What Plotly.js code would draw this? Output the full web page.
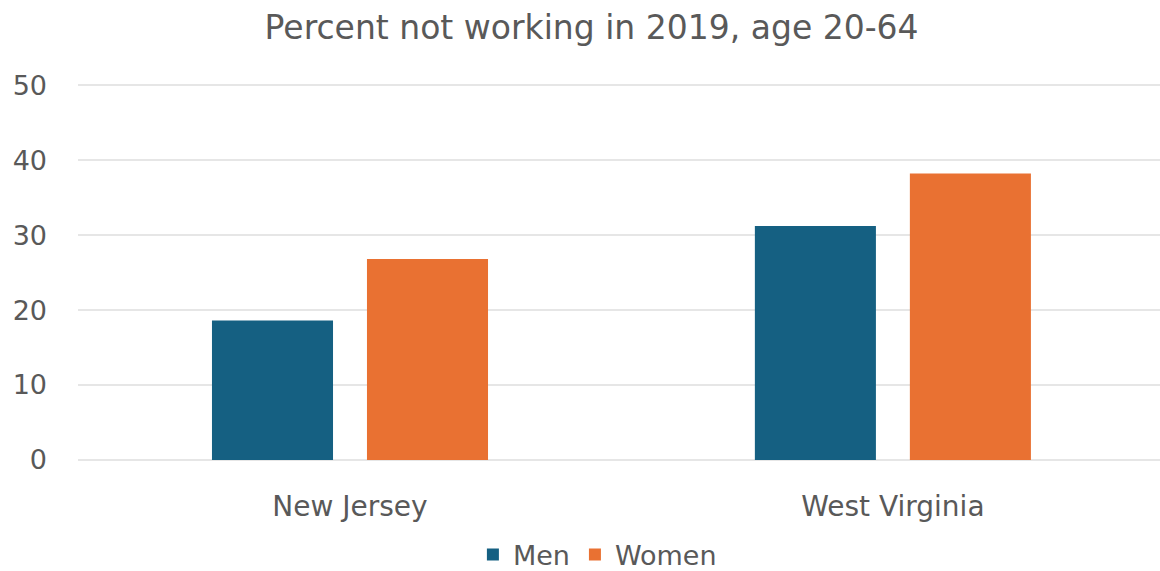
<!DOCTYPE html>
<html>
<head>
<meta charset="utf-8">
<script src="https://cdn.plot.ly/plotly-3.0.1.min.js"></script>
<style>html,body{margin:0;padding:0;background:#fff;}#chart{width:1160px;height:571px;}</style>
</head>
<body>
<div id="chart"></div>
<script>
const states = ["New Jersey", "West Virginia"];
const men = [18.6, 31.2];
const women = [26.8, 38.2];
const yTicks = [0, 10, 20, 30, 40, 50];

const textColor = "#595959";
const fontFam = "DejaVu Sans, sans-serif";

const traces = [
  {type: "bar", name: "Men", x: states, y: men, marker: {color: "#156082"}, hoverinfo: "y"},
  {type: "bar", name: "Women", x: states, y: women, marker: {color: "#E97132"}, hoverinfo: "y"}
];

const layout = {
  width: 1160, height: 571,
  paper_bgcolor: "#fff", plot_bgcolor: "#fff",
  margin: {l: 78, r: 0, t: 84, b: 111},
  title: {text: "Percent not working in 2019, age 20-64", font: {family: fontFam, size: 33, color: textColor}, x: 0.51, xanchor: "center", xref: "container", y: 0.952, yanchor: "middle"},
  barmode: "group",
  bargap: 0.429,
  bargroupgap: 0.219,
  xaxis: {
    range: [-0.501, 1.492], automargin: false,
    showgrid: false, zeroline: false, showline: false,
    ticks: "", tickfont: {family: fontFam, size: 28, color: textColor},
    ticklabelstandoff: 27
  },
  yaxis: {
    range: [0, 50.15], tickvals: yTicks, automargin: false,
    showgrid: true, gridcolor: "#e6e6e6", gridwidth: 2,
    zeroline: true, zerolinecolor: "#e6e6e6", zerolinewidth: 2,
    showline: false, ticks: "",
    tickfont: {family: fontFam, size: 27, color: textColor},
    ticklabelstandoff: 30
  },
  legend: {
    orientation: "h", x: 0.515, xanchor: "center", xref: "container",
    y: 0.028, yanchor: "middle", yref: "container",
    font: {family: fontFam, size: 27, color: textColor},
    itemwidth: 30, traceorder: "normal"
  },
  showlegend: true
};

Plotly.newPlot("chart", traces, layout, {displayModeBar: false, staticPlot: true});
</script>
</body>
</html>
